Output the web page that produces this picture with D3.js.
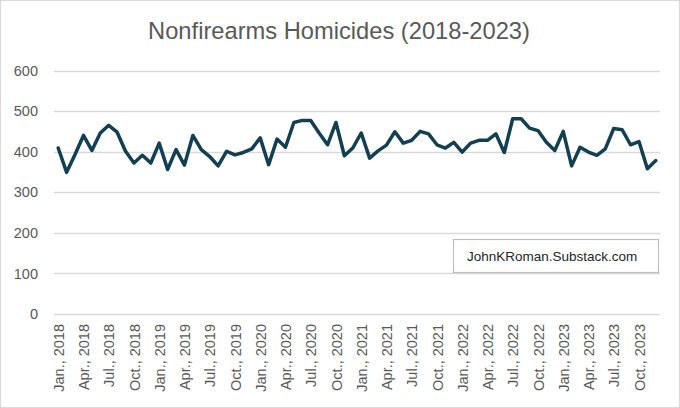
<!DOCTYPE html>
<html>
<head>
<meta charset="utf-8">
<script src="https://cdn.jsdelivr.net/npm/d3@7"></script>
<style>
  html, body { margin: 0; padding: 0; background: #fff; }
  svg { display: block; font-family: "Liberation Sans", Arial, sans-serif; }
</style>
</head>
<body>
<svg id="chart" width="680" height="408"></svg>
<script>
const title = "Nonfirearms Homicides (2018-2023)";
const years = [2018, 2019, 2020, 2021, 2022, 2023];
const monthNames = ["Jan.", "Feb.", "Mar.", "Apr.", "May", "Jun.", "Jul.", "Aug.", "Sep.", "Oct.", "Nov.", "Dec."];
const categories = [];
years.forEach(y => monthNames.forEach(m => categories.push(m + ", " + y)));
const values = [
  409, 349, 393, 440, 403, 446, 465, 448, 401, 372, 391, 372,
  421, 356, 405, 367, 440, 405, 388, 365, 401, 392, 398, 407,
  434, 368, 431, 411, 472, 477, 477, 446, 417, 472, 390, 409,
  446, 384, 402, 416, 449, 421, 428, 450, 444, 417, 409, 423,
  399, 421, 428, 428, 444, 398, 481, 481, 458, 452, 423, 403,
  450, 365, 411, 399, 391, 407, 457, 454, 417, 425, 358, 378
];
const yTicks = [0, 100, 200, 300, 400, 500, 600];
const sourceLabel = "JohnKRoman.Substack.com";

const svg = d3.select("#chart");
const W = 680, H = 408;
const plot = { left: 54, right: 660, top: 70.5, bottom: 314 };

svg.append("rect").attr("x", 0.5).attr("y", 0.5).attr("width", W - 1).attr("height", H - 1)
  .attr("fill", "#fff").attr("stroke", "#d9d9d9");

const x = d3.scalePoint().domain(categories).range([plot.left, plot.right]).padding(0.5);
const y = d3.scaleLinear().domain([0, 600]).range([plot.bottom, plot.top]);

// gridlines
svg.append("g").selectAll("line").data(yTicks).join("line")
  .attr("x1", plot.left).attr("x2", plot.right)
  .attr("y1", d => Math.round(y(d)) + 0.5).attr("y2", d => Math.round(y(d)) + 0.5)
  .attr("stroke", "#d9d9d9").attr("stroke-width", 1.3);

// y axis labels
const yAxis = d3.axisLeft(y).tickValues(yTicks).tickSize(0).tickPadding(0);
const gy = svg.append("g").attr("transform", `translate(38,0)`).call(yAxis);
gy.select(".domain").remove();
gy.selectAll("text").attr("font-size", 14.5).attr("fill", "#595959")
  .attr("font-family", "Liberation Sans, Arial, sans-serif");

// x axis labels
const xTickVals = categories.filter((d, i) => i % 3 === 0);
const xAxis = d3.axisBottom(x).tickValues(xTickVals).tickSize(0).tickPadding(0);
const gx = svg.append("g").attr("transform", `translate(0,${plot.bottom})`).call(xAxis);
gx.select(".domain").remove();
gx.selectAll("text")
  .attr("font-size", 14.5).attr("fill", "#595959")
  .attr("font-family", "Liberation Sans, Arial, sans-serif")
  .attr("transform", "rotate(-90)")
  .attr("text-anchor", "end")
  .attr("x", -10).attr("y", 0).attr("dy", "0.35em");

// line
const line = d3.line().x((d, i) => x(categories[i])).y(d => y(d)).curve(d3.curveLinear);
svg.append("path").datum(values)
  .attr("d", line).attr("fill", "none")
  .attr("stroke", "#123f52").attr("stroke-width", 3.5)
  .attr("stroke-linejoin", "round").attr("stroke-linecap", "round");

// title
svg.append("text").attr("x", 339).attr("y", 38.5).attr("text-anchor", "middle")
  .attr("font-size", 23.7).attr("fill", "#595959").text(title);

// source box
svg.append("rect").attr("x", 453.5).attr("y", 239.5).attr("width", 205).attr("height", 33)
  .attr("fill", "#fff").attr("stroke", "#bfbfbf").attr("stroke-width", 1.2);
svg.append("text").attr("x", 467).attr("y", 260.5)
  .attr("font-size", 13.5).attr("fill", "#262626").text(sourceLabel);
</script>
</body>
</html>
